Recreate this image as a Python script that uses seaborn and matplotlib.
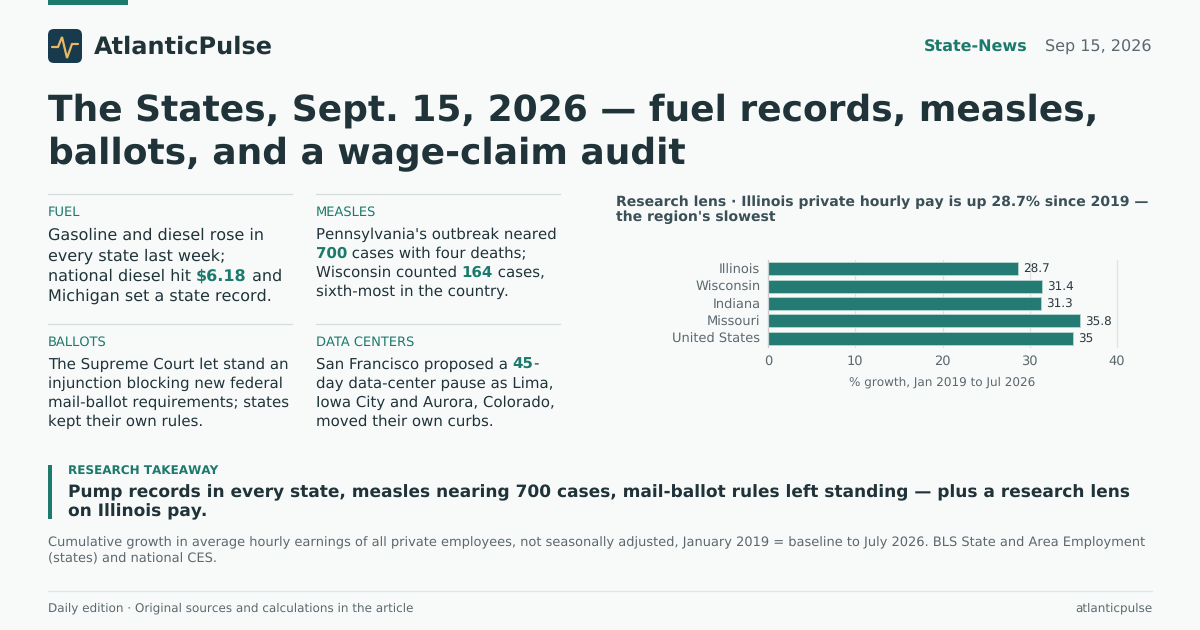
import pandas as pd
import matplotlib
matplotlib.use('Agg')
import matplotlib.pyplot as plt
from matplotlib.patches import FancyBboxPatch, Rectangle
import seaborn as sns

states = ['Illinois', 'Wisconsin', 'Indiana', 'Missouri', 'United States']
growth = [28.7, 31.4, 31.3, 35.8, 35]
value_labels = ['28.7', '31.4', '31.3', '35.8', '35']
x_ticks = [0, 10, 20, 30, 40]

title_lines = ['The States, Sept. 15, 2026 — fuel records, measles,',
               'ballots, and a wage-claim audit']
chart_title = ['Research lens · Illinois private hourly pay is up 28.7% since 2019 —',
               "the region's slowest"]
takeaway = ['Pump records in every state, measles nearing 700 cases, mail-ballot rules left standing — plus a research lens',
            'on Illinois pay.']
note = ['Cumulative growth in average hourly earnings of all private employees, not seasonally adjusted, January 2019 = baseline to July 2026. BLS State and Area Employment',
        '(states) and national CES.']

# each line is a list of (text, is_bold) runs
cards = [
    ('FUEL', 48, 194, [
        [('Gasoline and diesel rose in', 0)],
        [('every state last week;', 0)],
        [('national diesel hit ', 0), ('$6.18', 1), (' and', 0)],
        [('Michigan set a state record.', 0)]]),
    ('MEASLES', 316, 194, [
        [("Pennsylvania's outbreak neared", 0)],
        [('700', 1), (' cases with four deaths;', 0)],
        [('Wisconsin counted ', 0), ('164', 1), (' cases,', 0)],
        [('sixth-most in the country.', 0)]]),
    ('BALLOTS', 48, 324, [
        [('The Supreme Court let stand an', 0)],
        [('injunction blocking new federal', 0)],
        [('mail-ballot requirements; states', 0)],
        [('kept their own rules.', 0)]]),
    ('DATA CENTERS', 316, 324, [
        [('San Francisco proposed a ', 0), ('45', 1), ('-', 0)],
        [('day data-center pause as Lima,', 0)],
        [('Iowa City and Aurora, Colorado,', 0)],
        [('moved their own curbs.', 0)]]),
]

BG = '#f8fafa'
INK = '#1f3339'
TEAL = '#1c7a6c'
BAR = '#237b74'
GREY = '#5b686d'

sns.set_theme(style='white')
plt.rcParams['font.family'] = ['DejaVu Sans']
plt.rcParams['text.hinting'] = 'no_hinting'
plt.rcParams['text.hinting_factor'] = 1

W, H = 1200, 630
fig = plt.figure(figsize=(12, 6.3), dpi=100, facecolor=BG)
page = fig.add_axes([0, 0, 1, 1])
page.set_xlim(0, W)
page.set_ylim(H, 0)
page.axis('off')


def px(size):
    return size * 0.72


def put(x, y, s, size, color=INK, bold=False, ha='left'):
    return page.text(x, y, s, fontsize=px(size), color=color, ha=ha, va='baseline',
                     fontweight='bold' if bold else 'normal')


def put_runs(x, y, runs, size):
    renderer = fig.canvas.get_renderer()
    for s, is_bold in runs:
        # trailing spaces are not measured, so measure with a marker
        t = put(x, y, s + '|', size, bold=bool(is_bold))
        w = t.get_window_extent(renderer).width
        t.set_text('|')
        w -= t.get_window_extent(renderer).width
        t.set_text(s)
        if is_bold:
            t.set_color(TEAL)
        x += w


# top strip and logo
page.add_patch(Rectangle((48, 0), 80, 5, color=TEAL, lw=0))
page.add_patch(FancyBboxPatch((48, 29), 34, 34, boxstyle='round,pad=0,rounding_size=6', lw=0, fc='#173a4d'))
page.plot([52, 58, 62, 67, 72, 78], [47, 47, 37, 58, 44, 44], color='#e7b766', lw=1.6, solid_joinstyle='miter')
put(94, 54, 'AtlanticPulse', 24, bold=True)

put(1027.5, 52, 'State-News', 16, color=TEAL, bold=True, ha='right')
put(1152, 52, 'Sep 15, 2026', 16, color=GREY, ha='right')

for i, line in enumerate(title_lines):
    put(48, 121 + i * 43, line, 36.12, bold=True)

# text cards, the fuel card is set a little larger
for label, x, top, lines in cards:
    page.plot([x, x + 243.5], [top, top], color='#d5dcdc', lw=0.9)
    put(x, top + 22, label, 13, color=TEAL)
    size, lead, first = (16, 20.3, 46) if label == 'FUEL' else (14.93, 19, 45)
    for i, runs in enumerate(lines):
        put_runs(x, top + first + i * lead, runs, size)

# chart heading
for i, line in enumerate(chart_title):
    put(616, 206 + i * 15, line, 14, color='#3a4f56', bold=True)

# takeaway block
page.add_patch(Rectangle((48, 465), 4, 54, color=TEAL, lw=0))
put(68, 475, 'RESEARCH TAKEAWAY', 12, color=TEAL, bold=True)
for i, line in enumerate(takeaway):
    put(68, 497 + i * 19, line, 17, bold=True)
for i, line in enumerate(note):
    put(48, 546 + i * 16, line, 13, color=GREY)

# footer
page.plot([48, 1152], [591, 591], color='#dfe5e5', lw=0.9)
put(48, 612, 'Daily edition · Original sources and calculations in the article', 12, color=GREY)
put(1152, 612, 'atlanticpulse', 12, color=GREY, ha='right')

# bar chart, placed in page pixels
left, right, top, bottom = 768, 1117, 260, 347
ax = fig.add_axes([left / W, 1 - bottom / H, (right - left) / W, (bottom - top) / H])
ax.set_facecolor('none')
df = pd.DataFrame({'state': states, 'growth': growth})
sns.barplot(data=df, x='growth', y='state', color=BAR, saturation=1, width=0.75,
            edgecolor='#b9d6d2', linewidth=0.6, ax=ax)
ax.set_xlim(0, 40)
ax.set_xticks(x_ticks)
ax.grid(axis='x', color='#dde2e2', lw=0.9)
for gridline in ax.get_xgridlines():
    gridline.set_clip_on(False)
ax.set_axisbelow(True)
for side in ['top', 'right', 'bottom']:
    ax.spines[side].set_visible(False)
ax.spines['left'].set_color('#c9d0d0')
ax.spines['left'].set_linewidth(0.9)
ax.tick_params(axis='both', length=0, labelsize=px(13), labelcolor=GREY)
ax.tick_params(axis='y', pad=5.5)
ax.tick_params(axis='x', pad=6)
ax.set_ylabel('')
ax.set_xlabel('% growth, Jan 2019 to Jul 2026', fontsize=px(12), color=GREY, labelpad=6)
bar_texts = ax.bar_label(ax.containers[0], labels=value_labels, padding=3.5, fontsize=px(12), color='#2b3a3f')
for t in bar_texts:
    t.set_verticalalignment('center_baseline')

fig.savefig('out.png', dpi=100, facecolor=BG)
